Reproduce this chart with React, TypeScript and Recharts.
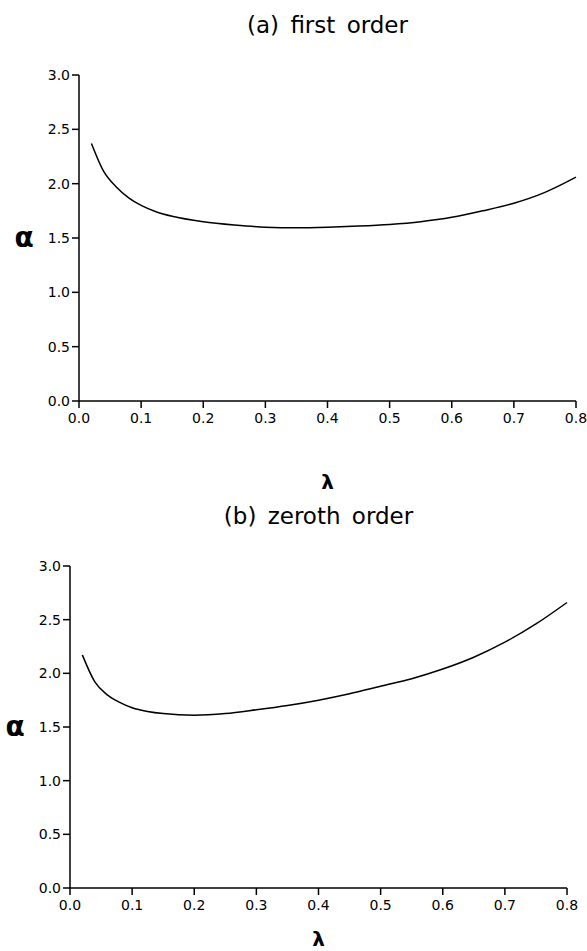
import React from "react";
import { LineChart, Line, XAxis, YAxis } from "recharts";

// lambda grid and alpha readings for both panels
const lambdaValues = [
  0.02, 0.04, 0.06, 0.08, 0.1, 0.125, 0.15, 0.2, 0.25, 0.3, 0.35, 0.4, 0.45,
  0.5, 0.55, 0.6, 0.65, 0.7, 0.75, 0.8,
];
const firstOrder = [
  2.37, 2.11, 1.97, 1.87, 1.8, 1.74, 1.7, 1.65, 1.62, 1.6, 1.595, 1.6, 1.61,
  1.625, 1.65, 1.69, 1.75, 1.82, 1.92, 2.06,
];
const zerothOrder = [
  2.17, 1.92, 1.8, 1.73, 1.68, 1.645, 1.625, 1.61, 1.625, 1.66, 1.7, 1.75,
  1.81, 1.88, 1.95, 2.04, 2.15, 2.29, 2.46, 2.66,
];
const xTicks = [0, 0.1, 0.2, 0.3, 0.4, 0.5, 0.6, 0.7, 0.8];
const yTicks = [0, 0.5, 1, 1.5, 2, 2.5, 3];

const FONT = "'DejaVu Sans', sans-serif";

const buildData = (values: number[]) =>
  lambdaValues.map((l, i) => ({ lambda: l, alpha: values[i] }));

interface PanelProps {
  title: string;
  values: number[];
  top: number;
  height: number;
  plotTop: number;
  plotLeft: number;
  plotRight: number;
  plotBottom: number;
  lambdaTop: number;
}

const Panel: React.FC<PanelProps> = ({
  title,
  values,
  top,
  height,
  plotTop,
  plotLeft,
  plotRight,
  plotBottom,
  lambdaTop,
}) => {
  const xAxisHeight = 30;
  const centerX = (plotLeft + plotRight) / 2;
  return (
    <div style={{ position: "absolute", left: 0, top, width: 587, height }}>
      <div
        style={{
          position: "absolute",
          left: centerX - 150,
          width: 300,
          top: plotTop - 63,
          textAlign: "center",
          fontFamily: FONT,
          fontSize: 23,
          wordSpacing: 4,
          color: "#000",
        }}
      >
        {title}
      </div>
      <LineChart
        width={587}
        height={height}
        data={buildData(values)}
        margin={{
          top: plotTop,
          right: 587 - plotRight,
          left: 0,
          bottom: height - plotBottom - xAxisHeight,
        }}
      >
        <XAxis
          dataKey="lambda"
          type="number"
          domain={[0, 0.8]}
          ticks={xTicks}
          tickFormatter={(v: number) => v.toFixed(1)}
          height={xAxisHeight}
          tickSize={7}
          tickMargin={5}
          stroke="#000"
          strokeWidth={1.5}
          tick={{ fill: "#000", fontSize: 14, fontFamily: FONT }}
          interval={0}
        />
        <YAxis
          type="number"
          domain={[0, 3]}
          ticks={yTicks}
          tickFormatter={(v: number) => v.toFixed(1)}
          width={plotLeft}
          tickSize={7}
          tickMargin={2}
          stroke="#000"
          strokeWidth={1.5}
          tick={{ fill: "#000", fontSize: 14, fontFamily: FONT }}
          interval={0}
        />
        <Line
          type="monotone"
          dataKey="alpha"
          stroke="#000"
          strokeWidth={1.5}
          dot={false}
          isAnimationActive={false}
        />
      </LineChart>
      <div
        style={{
          position: "absolute",
          left: centerX - 20,
          width: 40,
          top: lambdaTop - top,
          textAlign: "center",
          fontFamily: FONT,
          fontWeight: "bold",
          fontSize: 20,
          lineHeight: "18px",
        }}
      >
        λ
      </div>
      <div
        style={{
          position: "absolute",
          left: plotLeft - 70,
          width: 30,
          top: (plotTop + plotBottom) / 2 - 15,
          textAlign: "center",
          fontFamily: FONT,
          fontWeight: "bold",
          fontSize: 28,
          lineHeight: "30px",
        }}
      >
        α
      </div>
    </div>
  );
};

export default function App() {
  return (
    <div
      style={{
        position: "absolute",
        left: 0,
        top: 0,
        width: 587,
        height: 951,
        background: "#fff",
      }}
    >
      <Panel
        title="(a) first order"
        values={firstOrder}
        top={0}
        height={490}
        plotTop={75}
        plotLeft={79}
        plotRight={576}
        plotBottom={401}
        lambdaTop={473}
      />
      <Panel
        title="(b) zeroth order"
        values={zerothOrder}
        top={490}
        height={461}
        plotTop={76}
        plotLeft={70}
        plotRight={567}
        plotBottom={398}
        lambdaTop={930}
      />
    </div>
  );
}
